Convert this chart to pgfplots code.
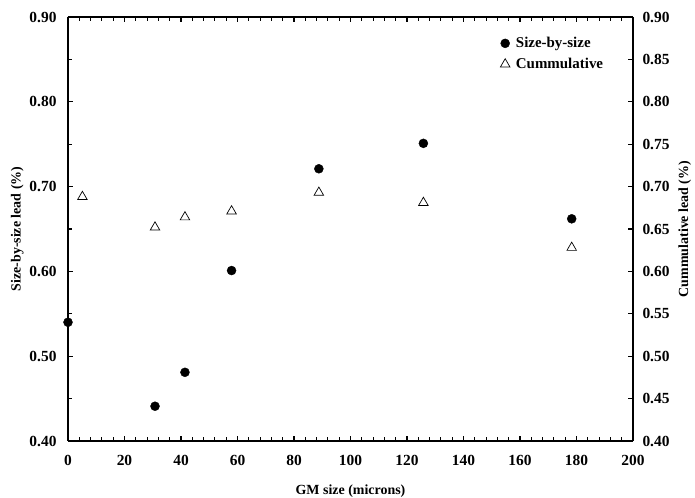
\documentclass[border=0pt]{standalone}
\usepackage{fontspec}
\setmainfont{Liberation Serif}
\usepackage{pgfplots}
\pgfplotsset{compat=1.18}

\pgfplotstableread{
x     y
0     0.540
30.8  0.441
41.4  0.481
57.9  0.601
88.8  0.721
125.8 0.751
178.3 0.662
}\sizebysize

\pgfplotstableread{
x     y
5.1   0.688
30.8  0.652
41.4  0.664
57.9  0.671
88.8  0.693
125.8 0.681
178.3 0.628
}\cumul

\pgfplotsset{
  base/.style={
    scale only axis, width=565bp, height=424bp,
    xmin=0, xmax=200, ymin=0.40, ymax=0.90,
    axis line style={line width=1.6pt},
    tick align=inside,
    major tick length=5bp, minor tick length=4bp,
    every tick/.style={black, line width=1.1pt},
    font=\fontsize{15.5}{18}\selectfont\bfseries,
    /pgf/number format/assume math mode=true,
    yticklabel style={/pgf/number format/fixed, /pgf/number format/fixed zerofill,
      /pgf/number format/precision=2},
  },
}

\begin{document}
\begin{tikzpicture}
\begin{axis}[base, name=ax,
  axis y line*=left, axis x line*=box,
  xtick={0,20,...,200}, minor x tick num=4,
  ytick={0.40,0.50,...,0.90}, minor y tick num=1,
  xticklabel style={yshift=-11bp},
  yticklabel style={xshift=-8bp},
  xlabel={GM size (microns)},
  ylabel={Size-by-size lead (\%)},
  xlabel style={yshift=-12bp, font=\fontsize{14}{16}\selectfont\bfseries},
  ylabel style={yshift=-1bp, font=\fontsize{14}{16}\selectfont\bfseries},
  legend style={draw=none, fill=none, at={(0.765,0.957)}, anchor=north west,
    font=\fontsize{15}{18}\selectfont\bfseries, row sep=5bp,
    legend cell align=left, inner sep=0pt},
  legend columns=1,
]
\addplot[only marks, mark=*, mark size=4.5bp, black] table[x=x,y=y] {\sizebysize};
\addlegendentry{\hspace{4bp}Size-by-size}
\addlegendimage{only marks, mark=triangle, mark size=5.5bp, black, line width=0.7pt}
\addlegendentry{\hspace{4bp}Cummulative}
\end{axis}
\begin{axis}[base,
  axis y line*=right, axis x line=none,
  ytick={0.40,0.45,...,0.91},
  yticklabel style={xshift=6bp},
  ylabel={Cummulative lead (\%)},
  ylabel style={yshift=-2bp, font=\fontsize{14}{16}\selectfont\bfseries},
]
\addplot[only marks, mark=triangle, mark size=5.5bp, black, line width=0.7pt] table[x=x,y=y] {\cumul};
\end{axis}
\pgfresetboundingbox
\path[use as bounding box] ([shift={(-68bp,-57bp)}]ax.south west) rectangle ([shift={(62bp,17bp)}]ax.north east);
\end{tikzpicture}
\end{document}
